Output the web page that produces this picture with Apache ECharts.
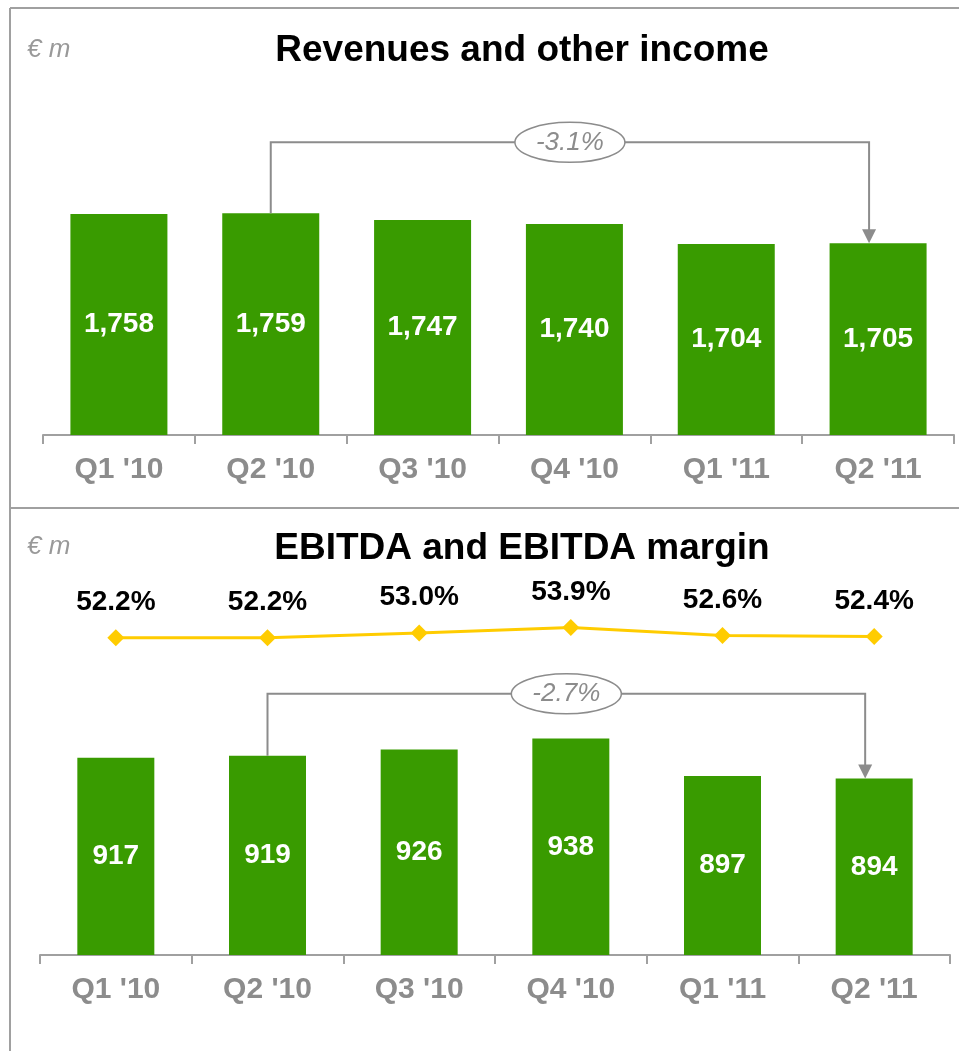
<!DOCTYPE html>
<html>
<head>
<meta charset="utf-8">
<script src="https://cdn.jsdelivr.net/npm/echarts@6/dist/echarts.min.js"></script>
<style>
  html, body { margin: 0; padding: 0; background: #fff; }
  #chart { width: 959px; height: 1051px; }
</style>
</head>
<body>
<div id="chart"></div>
<script>
const quarters = ["Q1 '10", "Q2 '10", "Q3 '10", "Q4 '10", "Q1 '11", "Q2 '11"];
const revenues = [1758, 1759, 1747, 1740, 1704, 1705];
const ebitda = [917, 919, 926, 938, 897, 894];
const ebitdaMargin = [52.2, 52.2, 53.0, 53.9, 52.6, 52.4];

const FONT = "'Liberation Sans', Arial, sans-serif";
const GREEN = "#399b00";
const GRAY = "#8c8c8c";
const FRAME = "#a0a0a0";

const chart = echarts.init(document.getElementById("chart"), null, { renderer: "canvas" });

const catAxis = (grid) => ({
  type: "category",
  gridIndex: grid,
  data: quarters,
  axisLine: { show: true, lineStyle: { color: FRAME, width: 2 } },
  axisTick: { show: true, length: 9, alignWithLabel: false, lineStyle: { color: FRAME, width: 2 } },
  axisLabel: { color: GRAY, fontFamily: FONT, fontWeight: "bold", fontSize: 30, margin: 20 },
});

const barLabel = {
  show: true,
  position: "inside",
  color: "#fff",
  fontFamily: FONT,
  fontWeight: "bold",
  fontSize: 28,
  formatter: (p) => p.value.toLocaleString("en-US"),
};

chart.setOption({
  animation: false,
  backgroundColor: "#fff",
  title: [
    { text: "Revenues and other income", left: 517, top: 27, textAlign: "center",
      textStyle: { fontFamily: FONT, fontSize: 37, fontWeight: "bold", color: "#000" } },
    { text: "EBITDA and EBITDA margin", left: 517, top: 525, textAlign: "center",
      textStyle: { fontFamily: FONT, fontSize: 37, fontWeight: "bold", color: "#000" } },
    { text: "€ m", left: 22, top: 32,
      textStyle: { fontFamily: FONT, fontSize: 26, fontStyle: "italic", fontWeight: "normal", color: "#999" } },
    { text: "€ m", left: 22, top: 529,
      textStyle: { fontFamily: FONT, fontSize: 26, fontStyle: "italic", fontWeight: "normal", color: "#999" } },
  ],
  grid: [
    { left: 43, right: 5, top: 135, height: 300 },
    { left: 40, right: 9, top: 615, height: 36 },
    { left: 40, right: 9, top: 709.5, height: 245.5 },
  ],
  xAxis: [
    catAxis(0),
    { type: "category", gridIndex: 1, data: quarters, show: false },
    catAxis(2),
  ],
  yAxis: [
    { type: "value", gridIndex: 0, min: 1360, max: 1900, show: false, splitLine: { show: false } },
    { type: "value", gridIndex: 1, min: 50, max: 56, show: false, splitLine: { show: false } },
    { type: "value", gridIndex: 2, min: 700, max: 970, show: false, splitLine: { show: false } },
  ],
  series: [
    { type: "bar", xAxisIndex: 0, yAxisIndex: 0, data: revenues, barWidth: 97,
      itemStyle: { color: GREEN }, label: barLabel },
    { type: "line", xAxisIndex: 1, yAxisIndex: 1, data: ebitdaMargin,
      symbol: "diamond", symbolSize: 17,
      lineStyle: { color: "#ffcc00", width: 3 }, itemStyle: { color: "#ffcc00" },
      label: { show: true, position: "top", distance: 13, color: "#000", fontFamily: FONT,
        fontWeight: "bold", fontSize: 28, formatter: (p) => p.value.toFixed(1) + "%" } },
    { type: "bar", xAxisIndex: 2, yAxisIndex: 2, data: ebitda, barWidth: 77,
      itemStyle: { color: GREEN }, label: barLabel },
  ],
});

// frame lines and "change" brackets between Q2 '10 and Q2 '11
function bracket(seriesIndex, values, rise, arrowShift) {
  const from = 1, to = values.length - 1;
  const a = chart.convertToPixel({ seriesIndex }, [from, values[from]]);
  const b = chart.convertToPixel({ seriesIndex }, [to, values[to]]);
  const yTop = Math.min(a[1], b[1]) - rise;
  const bx = b[0] + arrowShift;
  const pct = ((values[to] - values[from]) / values[from] * 100).toFixed(1) + "%";
  const cx = (a[0] + bx) / 2;
  return [
    { type: "polyline", shape: { points: [[a[0], a[1]], [a[0], yTop], [bx, yTop], [bx, b[1] - 13]] },
      style: { stroke: GRAY, lineWidth: 2, fill: null }, z: 10 },
    { type: "polygon", shape: { points: [[bx - 7, b[1] - 14], [bx + 7, b[1] - 14], [bx, b[1]]] },
      style: { fill: GRAY }, z: 10 },
    { type: "ellipse", shape: { cx: cx, cy: yTop, rx: 55, ry: 20 },
      style: { fill: "#fff", stroke: GRAY, lineWidth: 1.5 }, z: 11 },
    { type: "text", x: cx, y: yTop, z: 12,
      style: { text: pct, fill: GRAY, font: "italic 26px " + FONT, align: "center", verticalAlign: "middle" } },
  ];
}

chart.setOption({
  graphic: [
    { type: "line", shape: { x1: 10, y1: 8, x2: 10, y2: 1051 }, style: { stroke: FRAME, lineWidth: 2 } },
    { type: "line", shape: { x1: 10, y1: 8, x2: 959, y2: 8 }, style: { stroke: FRAME, lineWidth: 2 } },
    { type: "line", shape: { x1: 10, y1: 508, x2: 959, y2: 508 }, style: { stroke: FRAME, lineWidth: 2 } },
    ...bracket(0, revenues, 71, -9),
    ...bracket(2, ebitda, 62, -9),
  ],
});
</script>
</body>
</html>
